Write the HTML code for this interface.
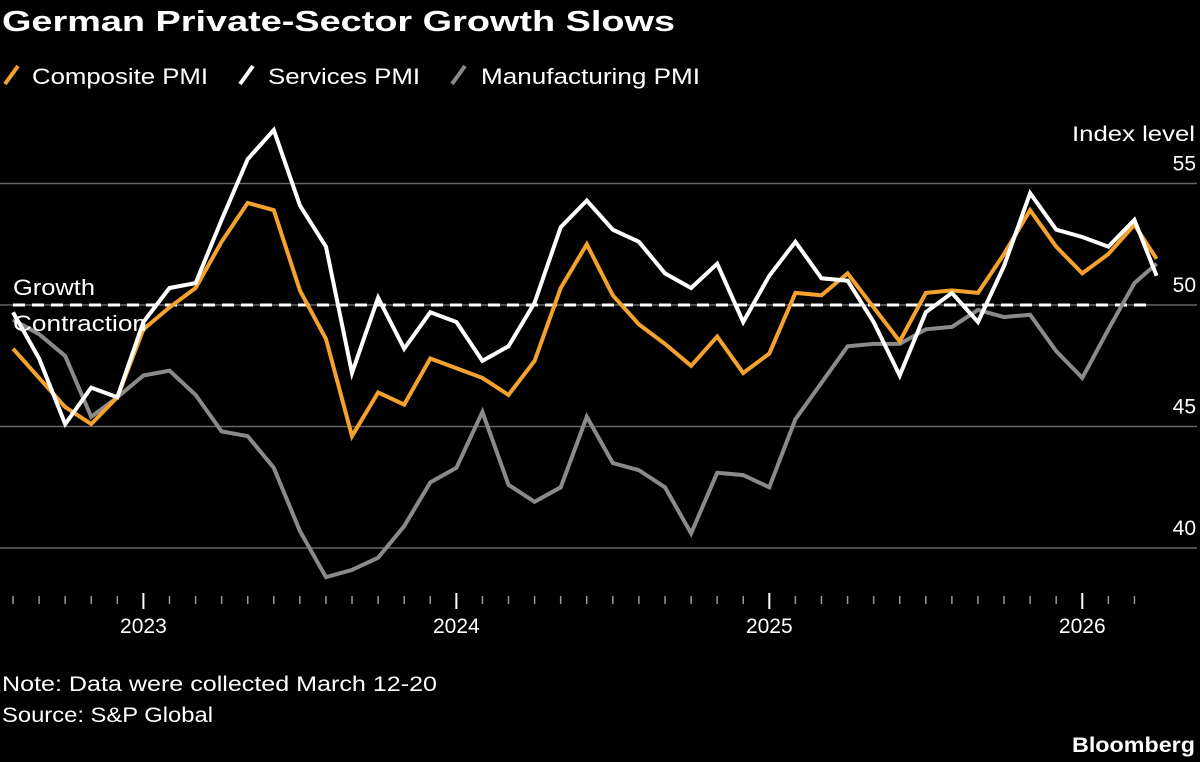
<!DOCTYPE html>
<html><head><meta charset="utf-8"><style>
html,body{margin:0;padding:0;background:#000;width:1200px;height:762px;overflow:hidden}
svg text{font-family:"Liberation Sans",sans-serif}
</style></head><body>
<svg id="chart" width="1200" height="762" viewBox="0 0 1200 762" xmlns="http://www.w3.org/2000/svg">
<rect width="1200" height="762" fill="#000"/>
<text x="2" y="31" fill="#fff" font-size="29" font-weight="bold" textLength="673" lengthAdjust="spacingAndGlyphs">German Private-Sector Growth Slows</text>
<g>
 <g><line x1="5" y1="84" x2="18" y2="66" stroke="#f5a12d" stroke-width="4"/><text x="32" y="84" fill="#fff" font-size="22" textLength="176" lengthAdjust="spacingAndGlyphs">Composite PMI</text></g>
 <g><line x1="240" y1="84" x2="253" y2="66" stroke="#fff" stroke-width="4"/><text x="268" y="84" fill="#fff" font-size="22" textLength="152" lengthAdjust="spacingAndGlyphs">Services PMI</text></g>
 <g><line x1="452" y1="84" x2="465" y2="66" stroke="#8a8a8a" stroke-width="4"/><text x="481" y="84" fill="#fff" font-size="22" textLength="219" lengthAdjust="spacingAndGlyphs">Manufacturing PMI</text></g>
</g>
<text x="1072" y="141" fill="#fff" font-size="21" textLength="123" lengthAdjust="spacingAndGlyphs">Index level</text>
<g id="grid"></g>
<g id="xaxis"></g>
<g id="series"></g>
<text x="13" y="295" fill="#fff" font-size="22" textLength="82" lengthAdjust="spacingAndGlyphs">Growth</text>
<text x="13" y="331" fill="#fff" font-size="22" textLength="134" lengthAdjust="spacingAndGlyphs">Contraction</text>
<text x="2" y="691" fill="#fff" font-size="21" textLength="435" lengthAdjust="spacingAndGlyphs">Note: Data were collected March 12-20</text>
<text x="2" y="722" fill="#fff" font-size="21" textLength="211" lengthAdjust="spacingAndGlyphs">Source: S&amp;P Global</text>
<text x="1072" y="752" fill="#fff" font-size="21" font-weight="bold" textLength="123" lengthAdjust="spacingAndGlyphs">Bloomberg</text>
</svg>
<script>
const monthIdx = [0,1,2,3,4,5,6,7,8,9,10,11,12,13,14,15,16,17,18,19,20,21,22,23,24,25,26,27,28,29,30,31,32,33,34,35,36,37,38,39,40,41,42,43,43.85];
const composite = [48.2,47.0,45.8,45.1,46.2,49.0,49.9,50.7,52.6,54.2,53.9,50.6,48.6,44.6,46.4,45.9,47.8,47.4,47.0,46.3,47.7,50.7,52.5,50.4,49.2,48.4,47.5,48.7,47.2,48.0,50.5,50.4,51.3,49.9,48.5,50.5,50.6,50.5,52.1,53.9,52.4,51.3,52.1,53.3,51.9];
const services = [49.7,47.8,45.1,46.6,46.2,49.3,50.7,50.9,53.5,56.0,57.2,54.1,52.4,47.2,50.3,48.2,49.7,49.3,47.7,48.3,50.1,53.2,54.3,53.1,52.6,51.3,50.7,51.7,49.3,51.2,52.6,51.1,51.0,49.3,47.1,49.7,50.5,49.3,51.6,54.6,53.1,52.8,52.4,53.5,51.2];
const manufacturing = [49.4,48.8,47.9,45.4,46.2,47.1,47.3,46.3,44.8,44.6,43.3,40.7,38.8,39.1,39.6,40.9,42.7,43.3,45.6,42.6,41.9,42.5,45.4,43.5,43.2,42.5,40.6,43.1,43.0,42.5,45.3,46.8,48.3,48.4,48.4,49.0,49.1,49.8,49.5,49.6,48.1,47.0,49.0,50.9,51.7];
const yTicks = [40,45,50,55];
const yearLabels = ["2023","2024","2025","2026"];
const yearTickIdx = [5,17,29,41];
const tickCount = 44;

const NS="http://www.w3.org/2000/svg";
function xScale(i){return 13 + i*26.08;}
function yScale(v){return 305 - (v-50)*24.3;}
function mk(tag,attrs,parent){const e=document.createElementNS(NS,tag);for(const k in attrs)e.setAttribute(k,attrs[k]);parent.appendChild(e);return e;}

const grid=document.getElementById('grid');
yTicks.forEach(t=>{
  const l=mk('line',{x1:0,x2:1197,y1:yScale(t),y2:yScale(t),stroke:'#666','stroke-width':1.5},grid);
  
  
  const tx=mk('text',{x:1196,y:yScale(t)-13,fill:'#fff','font-size':21,'text-anchor':'end'},grid);
  tx.textContent=t;
  
  
});
const dash=mk('line',{x1:xScale(0),x2:1150,y1:yScale(50),y2:yScale(50),stroke:'#fff','stroke-width':3,'stroke-dasharray':'12 7'},grid);



const xa=document.getElementById('xaxis');
for(let i=0;i<tickCount;i++){
  const major=yearTickIdx.includes(i);
  const t=mk('line',{x1:xScale(i),x2:xScale(i),y1:major?593:596,y2:major?609:604,stroke:major?'#fff':'#999','stroke-width':major?2:1.5},xa);
  
  
}
yearLabels.forEach((lab,k)=>{
  const tx=mk('text',{x:xScale(yearTickIdx[k]),y:633,fill:'#fff','font-size':21,'text-anchor':'middle'},xa);
  tx.textContent=lab;
  
  
});

const sg=document.getElementById('series');
function drawLine(vals,color,name){
  const d=vals.map((v,i)=>(i?'L':'M')+xScale(monthIdx[i]).toFixed(1)+','+yScale(v).toFixed(1)).join(' ');
  const p=mk('path',{d:d,fill:'none',stroke:color,'stroke-width':4,'stroke-linejoin':'miter'},sg);
  
  
}
drawLine(manufacturing,'#8a8a8a','manufacturing-pmi-line');
drawLine(composite,'#f5a12d','composite-pmi-line');
drawLine(services,'#ffffff','services-pmi-line');
</script>
</body></html>
